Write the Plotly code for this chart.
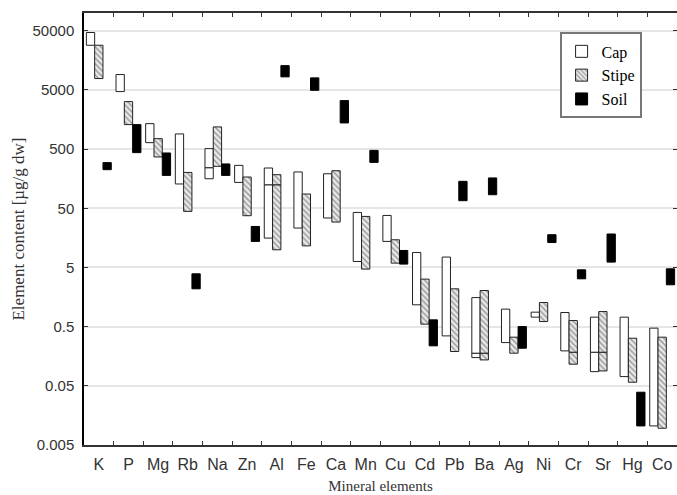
import math
import plotly.graph_objects as go

elements = ["K", "P", "Mg", "Rb", "Na", "Zn", "Al", "Fe", "Ca", "Mn",
            "Cu", "Cd", "Pb", "Ba", "Ag", "Ni", "Cr", "Sr", "Hg", "Co"]

cap_min = [28500, 4700, 644, 129, 158, 137, 15.7, 23.2, 34.3, 6.32,
           13.8, 1.17, 0.349, 0.150, 0.269, 0.724, 0.195, 0.0869, 0.0716, 0.0105]
cap_max = [46800, 9120, 1350, 904, 510, 266, 240, 206, 192, 42.6,
           37.9, 8.97, 7.50, 1.55, 0.989, 0.879, 0.867, 0.724, 0.724, 0.472]
cap_med = [None, None, None, None, 243, None, 125, None, None, None,
           None, None, None, 0.178, None, None, None, 0.185, None, None]

stipe_min = [7800, 1300, 369, 44.4, 256, 37.5, 9.95, 11.6, 29.3, 4.70,
             5.93, 0.551, 0.190, 0.137, 0.178, 0.610, 0.116, 0.0893, 0.0575, 0.0096]
stipe_max = [28500, 3180, 753, 202, 1188, 169, 185, 87.3, 216, 36.5,
             14.7, 3.18, 2.18, 2.04, 0.332, 1.28, 0.634, 0.900, 0.319, 0.332]
stipe_med = [None, None, None, None, None, None, 125, None, None, None,
             None, None, None, 0.178, None, None, 0.185, 0.185, None, None]

soil_min = [225, 437, 180, 2.18, 180, 13.8, 8330, 4940, 1387, 299,
            5.71, 0.237, 67.3, 84.9, 0.216, 13.2, 3.22, 6.17, 0.0105, 2.55]
soil_max = [296, 1300, 431, 3.91, 281, 24.7, 12900, 8010, 3310, 477,
            9.70, 0.652, 143, 163, 0.502, 17.9, 4.57, 18.4, 0.0390, 4.75]
soil_med = [None] * 20

y_tickvals = [0.005, 0.05, 0.5, 5, 50, 500, 5000, 50000]
y_ticktext = ["0.005", "0.05", "0.5", "5", "50", "500", "5000", "50000"]

series = [
    ("Cap", cap_min, cap_max, cap_med,
     dict(color="white", line=dict(color="#222", width=1))),
    ("Stipe", stipe_min, stipe_max, stipe_med,
     dict(color="#bdbdbd", line=dict(color="#222", width=1),
          pattern=dict(shape="\\", fgcolor="#444", bgcolor="#e8e8e8",
                       size=4, solidity=0.35))),
    ("Soil", soil_min, soil_max, soil_med,
     dict(color="black", line=dict(color="black", width=1))),
]

fig = go.Figure()
for name, lo, hi, med, marker in series:
    low_top = [m if m is not None else h for m, h in zip(med, hi)]
    fig.add_trace(go.Bar(
        x=elements, base=lo, y=[t - l for t, l in zip(low_top, lo)],
        name=name, offsetgroup=name, legendgroup=name, marker=marker,
    ))
    xs = [e for e, m in zip(elements, med) if m is not None]
    if xs:
        bs = [m for m in med if m is not None]
        hs = [h - m for h, m in zip(hi, med) if m is not None]
        fig.add_trace(go.Bar(
            x=xs, base=bs, y=hs, name=name, offsetgroup=name,
            legendgroup=name, showlegend=False, marker=marker,
        ))

sans = "Liberation Sans, Arial, sans-serif"
serif = "Liberation Serif, Times New Roman, serif"

fig.update_layout(
    width=677, height=495,
    margin=dict(l=84, r=0, t=13, b=50),
    paper_bgcolor="white", plot_bgcolor="white",
    barmode="group", bargap=0.16, bargroupgap=0,
    showlegend=True,
    legend=dict(
        x=0.802, y=0.955, xanchor="left", yanchor="top",
        bgcolor="white", bordercolor="#777", borderwidth=2,
        font=dict(family=serif, size=16, color="black"),
        traceorder="normal", tracegroupgap=0,
    ),
    xaxis=dict(
        type="category", categoryorder="array", categoryarray=elements,
        tickson="boundaries", ticks="inside", ticklen=4, tickcolor="#333",
        showline=True, linecolor="#333", linewidth=1.5, mirror="ticks",
        showgrid=False, zeroline=False, automargin=False, tickangle=0,
        tickfont=dict(family=sans, size=16, color="#333"),
        ticklabelstandoff=4,
        title=dict(text="Mineral elements", standoff=9,
                   font=dict(family=serif, size=15, color="#333")),
    ),
    yaxis=dict(
        type="log", range=[math.log10(0.005), 5.0],
        tickvals=y_tickvals, ticktext=y_ticktext,
        ticks="inside", ticklen=4, tickcolor="#333",
        showline=True, linecolor="black", linewidth=1.5, mirror="ticks",
        showgrid=True, gridcolor="#e6e6e6", gridwidth=2, zeroline=False,
        automargin=False,
        tickfont=dict(family=sans, size=15, color="#333"),
        ticklabelstandoff=5,
        title=dict(text="Element content [µg/g dw]", standoff=4,
                   font=dict(family=serif, size=17, color="#333")),
    ),
)

fig.write_html("out.html", config={"displayModeBar": False},
               post_script="document.body.style.margin='0px';")
